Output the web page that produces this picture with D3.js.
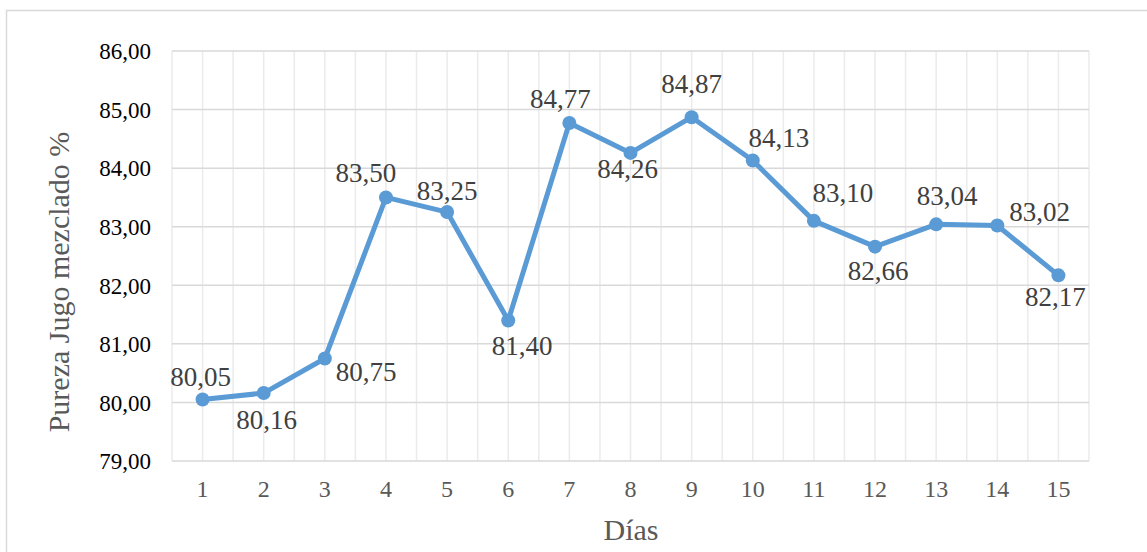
<!DOCTYPE html>
<html>
<head>
<meta charset="utf-8">
<script src="https://cdn.jsdelivr.net/npm/d3@7"></script>
<style>
  html, body { margin: 0; padding: 0; background: #fff; }
  svg { display: block; }
  svg text { font-family: "Liberation Serif", "Times New Roman", serif !important; }
</style>
</head>
<body>
<svg id="chart" width="1147" height="552"></svg>
<script>
// Daily mixed-juice purity
const days = ["1","2","3","4","5","6","7","8","9","10","11","12","13","14","15"];
const purity = [80.05, 80.16, 80.75, 83.50, 83.25, 81.40, 84.77, 84.26, 84.87, 84.13, 83.10, 82.66, 83.04, 83.02, 82.17];
const yTicks = [79, 80, 81, 82, 83, 84, 85, 86];

// label placement: [dx from point, baseline dy from point, anchor]
const labelPlacement = [
  [-2, -14, "middle"], [3, 36, "middle"], [11, 22, "start"], [-20, -15, "middle"],
  [0, -12, "middle"], [14, 35, "middle"], [-9, -15, "middle"], [-3, 25, "middle"],
  [0, -24, "middle"], [26, -14, "middle"], [29, -19, "middle"], [3, 33, "middle"],
  [11, -19, "middle"], [12, -5, "start"], [-3, 31, "middle"]
];

const serif = "'Liberation Serif', 'Times New Roman', serif";
const fmt = v => d3.format(".2f")(v).replace(".", ",");

const svg = d3.select("#chart");
const plot = { left: 172, right: 1089, top: 51, bottom: 461 };

// chart frame
svg.append("rect")
  .attr("x", 6.5).attr("y", 10.5)
  .attr("width", 1160).attr("height", 560)
  .attr("fill", "#fff").attr("stroke", "#d9d9d9").attr("stroke-width", 1.5);

const x = d3.scaleBand().domain(days).range([plot.left, plot.right]);
const y = d3.scaleLinear().domain([79, 86]).range([plot.bottom, plot.top]);
const cx = d => x(d) + x.bandwidth() / 2;

// vertical gridlines at band edges and band centres
const vLines = [];
days.forEach(d => { vLines.push(x(d)); vLines.push(cx(d)); });
vLines.push(plot.right);
svg.append("g").selectAll("line").data(vLines).join("line")
  .attr("x1", d => d).attr("x2", d => d)
  .attr("y1", plot.top).attr("y2", plot.bottom)
  .attr("stroke", "#ebebeb").attr("stroke-width", 1.5);

// horizontal gridlines
svg.append("g").selectAll("line").data(yTicks).join("line")
  .attr("x1", plot.left).attr("x2", plot.right)
  .attr("y1", d => y(d)).attr("y2", d => y(d))
  .attr("stroke", "#d9d9d9").attr("stroke-width", 1.5);

// y axis labels
const yAxis = svg.append("g")
  .attr("transform", `translate(${plot.left - 21},0)`)
  .call(d3.axisLeft(y).tickValues(yTicks).tickFormat(fmt).tickSize(0).tickPadding(0));
yAxis.attr("font-family", null);
yAxis.select(".domain").remove();
yAxis.selectAll("text")
  .style("font-family", serif).attr("font-size", 23)
  .attr("fill", "#000").attr("dy", "0.34em");

// x axis labels
const xAxis = svg.append("g")
  .attr("transform", `translate(0,${plot.bottom})`)
  .call(d3.axisBottom(x).tickSize(0).tickPadding(0));
xAxis.attr("font-family", null);
xAxis.select(".domain").remove();
xAxis.selectAll("text")
  .style("font-family", serif).attr("font-size", 24)
  .attr("fill", "#595959").attr("y", 36).attr("dy", 0);

// axis titles
svg.append("text")
  .attr("x", 631).attr("y", 540)
  .attr("text-anchor", "middle")
  .style("font-family", serif)
  .attr("font-size", 30).attr("fill", "#595959")
  .text("Días");

svg.append("text")
  .attr("transform", "translate(69,282) rotate(-90)")
  .attr("text-anchor", "middle")
  .style("font-family", serif)
  .attr("font-size", 30).attr("fill", "#595959")
  .text("Pureza Jugo mezclado %");

// series line
const line = d3.line().x((d, i) => cx(days[i])).y(d => y(d));
svg.append("path")
  .datum(purity)
  .attr("d", line)
  .attr("fill", "none")
  .attr("stroke", "#5b9bd5")
  .attr("stroke-width", 5)
  .attr("stroke-linejoin", "round");

// markers
svg.append("g").selectAll("circle").data(purity).join("circle")
  .attr("cx", (d, i) => cx(days[i]))
  .attr("cy", d => y(d))
  .attr("r", 7)
  .attr("fill", "#5b9bd5");

// data labels
svg.append("g").selectAll("text").data(purity).join("text")
  .attr("x", (d, i) => cx(days[i]) + labelPlacement[i][0])
  .attr("y", (d, i) => y(d) + labelPlacement[i][1])
  .attr("text-anchor", (d, i) => labelPlacement[i][2])
  .style("font-family", serif)
  .attr("font-size", 27)
  .attr("fill", "#404040")
  .text(d => fmt(d));
</script>
</body>
</html>
